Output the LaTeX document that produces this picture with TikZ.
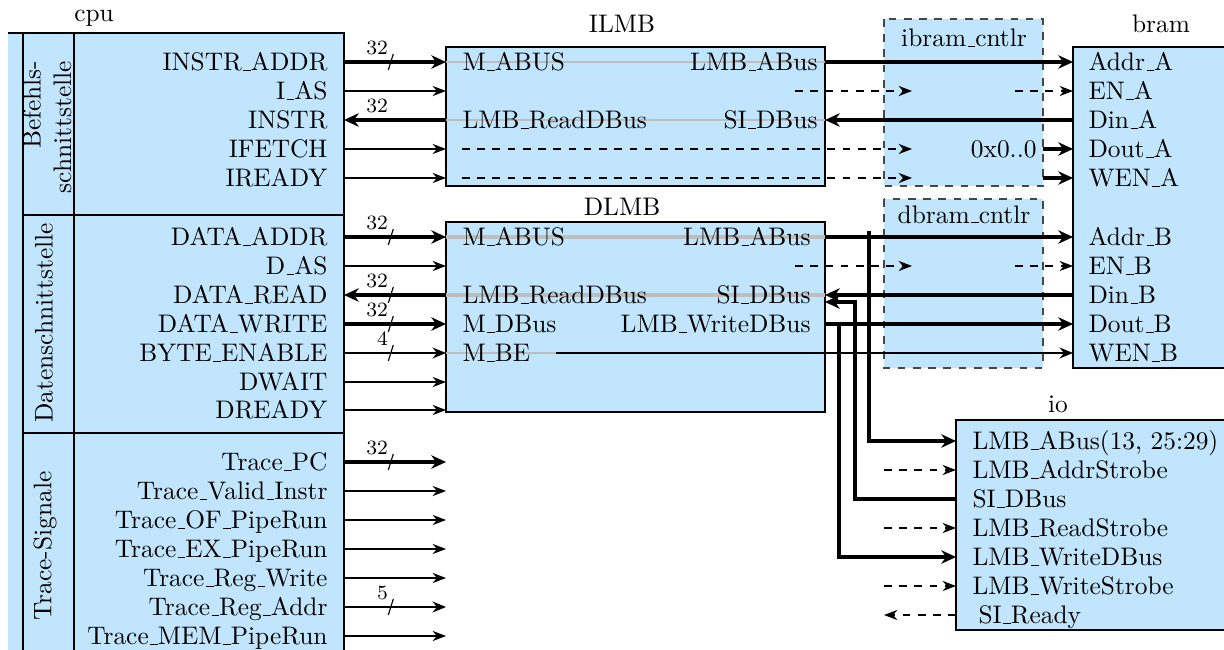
\documentclass[tikz,border=0pt]{standalone}
\usetikzlibrary{arrows.meta}
\definecolor{boxblue}{RGB}{193,229,252}
\definecolor{busgray}{RGB}{190,190,190}
\definecolor{dashgray}{RGB}{70,70,70}
\DeclareRobustCommand{\_}{\leavevmode\kern.06em\vbox{\hrule width.3em}}
\newcommand\bwmark[2]{%
  \draw[wmark] (388.3,#1+8) -- (393.3,#1-8);
  \node[wlabel] at (388.5,#1-7) {#2};}
\begin{document}
\begin{tikzpicture}[x=0.394pt,y=-0.394pt,
  txt/.style={inner sep=0pt, text height=6.83pt, text depth=0pt},
  ttl/.style={inner sep=0pt},
  solidbox/.style={fill=boxblue, draw=black, line width=0.85pt},
  ctlbox/.style={fill=boxblue, draw=dashgray, line width=0.5pt, dashed},
  sepline/.style={line width=0.5pt},
  sig/.style={line width=0.45pt, -{Stealth[length=5.3pt,width=4pt]}},
  sigdash/.style={sig, dashed},
  midsig/.style={line width=0.75pt, -{Stealth[length=5.3pt,width=4.3pt]}},
  bus/.style={line width=1.7pt, -{Stealth[length=5.8pt,width=5.3pt]}},
  grayline/.style={draw=busgray, line width=1.05pt},
  graybus/.style={draw=busgray, line width=1.7pt},
  wmark/.style={line width=0.45pt},
  wlabel/.style={font=\footnotesize, inner sep=0pt, text depth=0pt, anchor=south east},
]
\useasboundingbox (0,0) rectangle (1224,650);
\clip (8,0) rectangle (1224,650);

% ---- x positions
\coordinate (cpuE) at (344,0);
\coordinate (lmbW) at (446,0);
\coordinate (lmbE) at (825,0);
\coordinate (lmbIn) at (462,0);
\coordinate (ctlW) at (884,0);
\coordinate (ctlE) at (1043,0);
\coordinate (ctlTip) at (912,0);
\coordinate (ctlIn) at (795,0);
\coordinate (ctlOut) at (1015,0);
\coordinate (bramW) at (1073,0);
\coordinate (ioW) at (956,0);
\coordinate (beS) at (556,0);
\coordinate (brA) at (869,0);
\coordinate (brS) at (855,0);
\coordinate (brW) at (839,0);
\coordinate (brAtop) at (869,231);
% ---- rows
\coordinate (iA) at (0,62);  \coordinate (iB) at (0,91);  \coordinate (iC) at (0,120);
\coordinate (iD) at (0,149); \coordinate (iE) at (0,178);
\coordinate (dA) at (0,237); \coordinate (dB) at (0,266); \coordinate (dC) at (0,295);
\coordinate (dCb) at (0,302);
\coordinate (dD) at (0,324); \coordinate (dE) at (0,353); \coordinate (dF) at (0,382);
\coordinate (dG) at (0,410);
\coordinate (tA) at (0,462); \coordinate (tB) at (0,491); \coordinate (tC) at (0,520);
\coordinate (tD) at (0,549); \coordinate (tE) at (0,578); \coordinate (tF) at (0,607);
\coordinate (tG) at (0,636);
\coordinate (oA) at (0,441); \coordinate (oB) at (0,470); \coordinate (oC) at (0,499);
\coordinate (oD) at (0,528); \coordinate (oE) at (0,557); \coordinate (oF) at (0,586);
\coordinate (oG) at (0,615);

% ---- cpu
\path[fill=boxblue] (-20,33) rectangle (344,700);
\draw[line width=0.85pt] (-20,33) -- (344,33) -- (344,700);
\draw[sepline] (23,33) -- (23,700);
\draw[sepline] (74,33) -- (74,700);
\draw[sepline] (23,215) -- (344,215);
\draw[sepline] (23,433) -- (344,433);
\node[ttl, anchor=base] (cpuT) at (94,22) {cpu};
\node[ttl, rotate=90, align=right] (secB) at (47,127) {Befehls-\\schnittstelle};
\node[ttl, rotate=90] (secD) at (44,323) {Datenschnittstelle};
\node[ttl, rotate=90] (secT) at (45,546) {Trace-Signale};

\node[txt, anchor=east] (c1) at (328,62) {INSTR\_ADDR};
\node[txt, anchor=east] (c2) at (328,91) {I\_AS};
\node[txt, anchor=east] (c3) at (328,120) {INSTR};
\node[txt, anchor=east] (c4) at (328,149) {IFETCH};
\node[txt, anchor=east] (c5) at (328,178) {IREADY};
\node[txt, anchor=east] (c6) at (328,237) {DATA\_ADDR};
\node[txt, anchor=east] (c7) at (328,266) {D\_AS};
\node[txt, anchor=east] (c8) at (328,295) {DATA\_READ};
\node[txt, anchor=east] (c9) at (328,324) {DATA\_WRITE};
\node[txt, anchor=east] (c10) at (328,353) {BYTE\_ENABLE};
\node[txt, anchor=east] (c11) at (328,382) {DWAIT};
\node[txt, anchor=east] (c12) at (328,410) {DREADY};
\node[txt, anchor=east] (c13) at (328,462) {Trace\_PC};
\node[txt, anchor=east] (c14) at (328,491) {Trace\_Valid\_Instr};
\node[txt, anchor=east] (c15) at (328,520) {Trace\_OF\_PipeRun};
\node[txt, anchor=east] (c16) at (328,549) {Trace\_EX\_PipeRun};
\node[txt, anchor=east] (c17) at (328,578) {Trace\_Reg\_Write};
\node[txt, anchor=east] (c18) at (328,607) {Trace\_Reg\_Addr};
\node[txt, anchor=east] (c19) at (328,636) {Trace\_MEM\_PipeRun};

% ---- ILMB / DLMB
\draw[solidbox] (446,47) rectangle (825,186);
\draw[solidbox] (446,222) rectangle (825,412);
\node[ttl, anchor=base] (ilmbT) at (622,33) {ILMB};
\node[ttl, anchor=base] (dlmbT) at (622,215) {DLMB};
\draw[grayline] (lmbW |- iA) -- (lmbE |- iA);
\draw[grayline] (lmbW |- iC) -- (lmbE |- iC);
\draw[graybus] (lmbW |- dA) -- (lmbE |- dA);
\draw[graybus] (lmbW |- dC) -- (lmbE |- dC);
\draw[grayline] (lmbW |- dE) -- (beS |- dE);
\node[txt, anchor=west] (i1) at (462,62) {M\_ABUS};
\node[txt, anchor=east] (i2) at (818,62) {LMB\_ABus};
\node[txt, anchor=west] (i3) at (462,120) {LMB\_ReadDBus};
\node[txt, anchor=east] (i4) at (818,120) {SI\_DBus};
\node[txt, anchor=west] (d1) at (462,237) {M\_ABUS};
\node[txt, anchor=east] (d2) at (811,237) {LMB\_ABus};
\node[txt, anchor=west] (d3) at (462,295) {LMB\_ReadDBus};
\node[txt, anchor=east] (d4) at (811,295) {SI\_DBus};
\node[txt, anchor=west] (d5) at (462,324) {M\_DBus};
\node[txt, anchor=east] (d6) at (811,324) {LMB\_WriteDBus};
\node[txt, anchor=west] (d7) at (462,353) {M\_BE};

% ---- controllers
\draw[ctlbox] (884,19) rectangle (1043,186);
\draw[ctlbox] (884,199) rectangle (1043,368);
\node[ttl, anchor=base] (ibT) at (964,47) {ibram\_cntlr};
\node[ttl, anchor=base] (dbT) at (964,223) {dbram\_cntlr};
\node[txt, anchor=east] (zeros) at (1037,149) {0x0..0};

% ---- bram
\draw[solidbox] (1073,47) rectangle (1260,368);
\node[ttl, anchor=base] (bramT) at (1161,33) {bram};
\node[txt, anchor=west] (b1) at (1088,62) {Addr\_A};
\node[txt, anchor=west] (b2) at (1088,91) {EN\_A};
\node[txt, anchor=west] (b3) at (1088,120) {Din\_A};
\node[txt, anchor=west] (b4) at (1088,149) {Dout\_A};
\node[txt, anchor=west] (b5) at (1088,178) {WEN\_A};
\node[txt, anchor=west] (b6) at (1088,237) {Addr\_B};
\node[txt, anchor=west] (b7) at (1088,266) {EN\_B};
\node[txt, anchor=west] (b8) at (1088,295) {Din\_B};
\node[txt, anchor=west] (b9) at (1088,324) {Dout\_B};
\node[txt, anchor=west] (b10) at (1088,353) {WEN\_B};

% ---- io
\draw[solidbox] (956,420) rectangle (1260,630);
\node[ttl, anchor=base] (ioT) at (1058,412) {io};
\node[txt, anchor=west] (o1) at (972,441) {LMB\_ABus(13, 25:29)};
\node[txt, anchor=west] (o2) at (972,470) {LMB\_AddrStrobe};
\node[txt, anchor=west] (o3) at (972,499) {SI\_DBus};
\node[txt, anchor=west] (o4) at (972,528) {LMB\_ReadStrobe};
\node[txt, anchor=west] (o5) at (972,557) {LMB\_WriteDBus};
\node[txt, anchor=west] (o6) at (972,586) {LMB\_WriteStrobe};
\node[txt, anchor=west] (o7) at (978,615) {SI\_Ready};

% ---- cpu -> LMB
\draw[bus] (cpuE |- iA) -- (lmbW |- iA);
\draw[sig] (cpuE |- iB) -- (lmbW |- iB);
\draw[bus] (lmbW |- iC) -- (cpuE |- iC);
\draw[sig] (cpuE |- iD) -- (lmbW |- iD);
\draw[sig] (cpuE |- iE) -- (lmbW |- iE);
\draw[bus] (cpuE |- dA) -- (lmbW |- dA);
\draw[sig] (cpuE |- dB) -- (lmbW |- dB);
\draw[bus] (lmbW |- dC) -- (cpuE |- dC);
\draw[bus] (cpuE |- dD) -- (lmbW |- dD);
\draw[midsig] (cpuE |- dE) -- (lmbW |- dE);
\draw[sig] (cpuE |- dF) -- (lmbW |- dF);
\draw[sig] (cpuE |- dG) -- (lmbW |- dG);
\draw[bus] (cpuE |- tA) -- (lmbW |- tA);
\draw[sig] (cpuE |- tB) -- (lmbW |- tB);
\draw[sig] (cpuE |- tC) -- (lmbW |- tC);
\draw[sig] (cpuE |- tD) -- (lmbW |- tD);
\draw[sig] (cpuE |- tE) -- (lmbW |- tE);
\draw[midsig] (cpuE |- tF) -- (lmbW |- tF);
\draw[sig] (cpuE |- tG) -- (lmbW |- tG);
\bwmark{62}{32}
\node[wlabel] (w2) at (388.5,113) {32};
\bwmark{237}{32}
\bwmark{295}{32}
\bwmark{324}{32}
\bwmark{353}{4}
\bwmark{462}{32}
\bwmark{607}{5}

% ---- ILMB -> bram
\draw[bus] (lmbE |- iA) -- (bramW |- iA);
\draw[sigdash] (ctlIn |- iB) -- (ctlTip |- iB);
\draw[sigdash] (ctlOut |- iB) -- (bramW |- iB);
\draw[bus] (bramW |- iC) -- (lmbE |- iC);
\draw[sigdash] (lmbIn |- iD) -- (ctlTip |- iD);
\draw[bus] (ctlE |- iD) -- (bramW |- iD);
\draw[sigdash] (lmbIn |- iE) -- (ctlTip |- iE);
\draw[bus] (ctlE |- iE) -- (bramW |- iE);

% ---- DLMB -> bram
\draw[bus] (lmbE |- dA) -- (bramW |- dA);
\draw[sigdash] (ctlIn |- dB) -- (ctlTip |- dB);
\draw[sigdash] (ctlOut |- dB) -- (bramW |- dB);
\draw[bus] (bramW |- dC) -- (lmbE |- dC);
\draw[bus] (lmbE |- dD) -- (bramW |- dD);
\draw[midsig] (beS |- dE) -- (bramW |- dE);

% ---- DLMB <-> io
\draw[bus] (brAtop) |- (ioW |- oA);
\draw[bus] (ioW |- oC) -| (brS |- dCb) -- (lmbE |- dCb);
\draw[bus] (brW |- dD) |- (ioW |- oE);
\draw[sigdash] (ctlW |- oB) -- (ioW |- oB);
\draw[sigdash] (ctlW |- oD) -- (ioW |- oD);
\draw[sigdash] (ctlW |- oF) -- (ioW |- oF);
\draw[sigdash] (ioW |- oG) -- (ctlW |- oG);
\end{tikzpicture}
\end{document}
